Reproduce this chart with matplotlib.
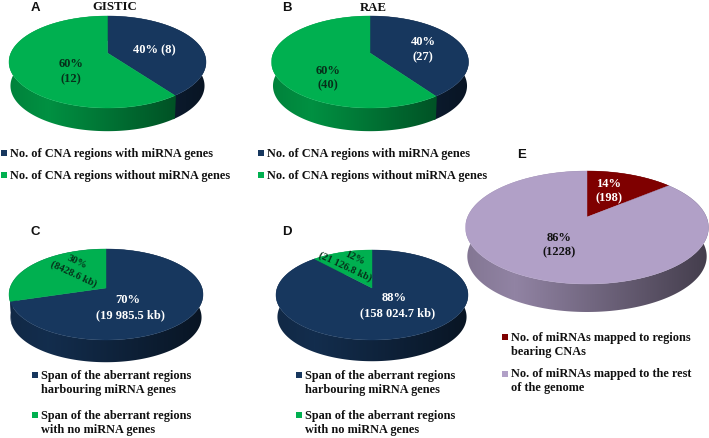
import numpy as np
import matplotlib
matplotlib.use("Agg")
import matplotlib.pyplot as plt
from matplotlib.colors import to_rgb
from matplotlib.patches import Polygon, Rectangle

NAVY, GREEN, RED, LILAC = "#17375E", "#00B050", "#7F0000", "#B1A0C7"

panel_a_values = [8, 12]
panel_b_values = [27, 40]
panel_c_values = [19985.5, 8428.6]
panel_d_values = [158024.7, 21126.8]
panel_e_values = [198, 1228]

cna_legend = ["No. of CNA regions with miRNA genes", "No. of CNA regions without miRNA genes"]
span_legend = [["Span of the aberrant regions", "harbouring miRNA genes"],
               ["Span of the aberrant regions", "with no miRNA genes"]]
mirna_legend = [["No. of miRNAs mapped to regions", "bearing CNAs"],
                ["No. of miRNAs mapped to the rest", "of the genome"]]

W, H = 709, 438
fig = plt.figure(figsize=(W / 100, H / 100), dpi=100, facecolor="white")
ax = fig.add_axes([0, 0, 1, 1])


def pie3d(values, colors, cx, cy, halfw, up, down, depth, wall_colors=None):
    """Perspective pie: slices run clockwise from 12 o'clock."""
    k = (down - up) / (down + up)
    by = up * (1 + k)
    ax_w = halfw * np.sqrt(1 - k * k)

    def rim(t, scale=1.0, dy=0.0):
        u, v = np.sin(t), -np.cos(t)
        d = 1 - k * v
        return cx + scale * ax_w * u / d, cy + dy + scale * by * v / d

    fractions = np.asarray(values, float) / np.sum(values)
    edges = np.concatenate([[0], np.cumsum(fractions)]) * 2 * np.pi
    wall_colors = wall_colors or colors
    pos = np.linspace(-1, 1, 256)
    shade = np.interp(pos, [-1, -0.6, 1], [0.74, 0.82, 0.38])[None, :, None]
    for c, t0, t1 in zip(wall_colors, edges[:-1], edges[1:]):
        ts = np.linspace(t0 - 0.012, t1 + 0.012, 300)
        xa, ya = rim(ts)
        xb, yb = rim(ts[::-1], 0.985, depth)
        band = Polygon(np.column_stack([np.r_[xa, xb], np.r_[ya, yb]]), closed=True,
                       facecolor="none", edgecolor="none", transform=ax.transData)
        ax.add_patch(band)
        img = ax.imshow(np.array(to_rgb(c))[None, None, :] * shade, aspect="auto",
                        extent=(cx - halfw, cx + halfw, cy + down + depth + 2, cy - up - 2),
                        interpolation="bilinear", zorder=2)
        img.set_clip_path(band)
    for c, t0, t1 in zip(colors, edges[:-1], edges[1:]):
        ts = np.linspace(t0, t1, 200)
        x, y = rim(ts)
        pts = np.column_stack([np.r_[cx, x], np.r_[cy, y]])
        ax.add_patch(Polygon(pts, closed=True, facecolor=c, edgecolor=c, linewidth=0.3, zorder=3))


pie3d(panel_a_values, [NAVY, GREEN], 107.5, 53, 98.5, 37, 55, 24)
pie3d(panel_b_values, [NAVY, GREEN], 370, 53, 98.5, 37, 55, 24)
pie3d(panel_c_values, [NAVY, GREEN], 106, 288, 97, 39, 52, 23, wall_colors=[NAVY, NAVY])
pie3d(panel_d_values, [NAVY, GREEN], 372, 288, 96, 38, 52, 22)
pie3d(panel_e_values, [RED, LILAC], 587, 217, 121.5, 46, 67, 29)

ax.set_xlim(0, W)
ax.set_ylim(H, 0)
ax.axis("off")

SERIF = "Liberation Serif"
SANS = "Liberation Sans"
LEG = 8.8
LAB = 9.0
SMALL = 7.5


def serif(x, y, s, size=LEG, color="#111111", **kw):
    ax.text(x, y, s, family=SERIF, weight="bold", fontsize=size, color=color,
            ha=kw.pop("ha", "center"), va="center", zorder=5, **kw)


for x, y, s in [(35, 8, "A"), (287, 8, "B"), (35, 232, "C"), (287, 232, "D"), (522, 155, "E")]:
    ax.text(x, y, s, family=SANS, weight="bold", fontsize=9.5, color="#111111", ha="center", va="center")
serif(115, 7.5, "GISTIC", size=9.2)
serif(373, 8, "RAE", size=9.2)

DARK = "#06301a"
serif(154, 50, "40% (8)", color="white", size=LAB)
serif(71, 64, "60%", size=LAB, color=DARK)
serif(71, 79, "(12)", size=LAB, color=DARK)
serif(423, 42, "40%", color="white", size=LAB)
serif(423, 57, "(27)", color="white", size=LAB)
serif(328, 71, "60%", size=LAB, color=DARK)
serif(328, 85, "(40)", size=LAB, color=DARK)
serif(128, 300, "70%", color="white", size=LAB)
serif(130, 315, "(19 985.5 kb)", color="white", size=LAB)
serif(77, 262, "30%", size=SMALL, color=DARK, rotation=-25, rotation_mode="anchor")
serif(74, 274, "(8428.6 kb)", size=SMALL, color=DARK, rotation=-25, rotation_mode="anchor")
serif(394, 298, "88%", color="white", size=LAB)
serif(398, 313, "(158 024.7 kb)", color="white", size=LAB)
serif(355, 258, "12%", size=SMALL, color=DARK, rotation=-25, rotation_mode="anchor")
serif(345, 267, "(21 126.8 kb)", size=SMALL, color=DARK, rotation=-25, rotation_mode="anchor")
serif(609, 184, "14%", color="white", size=LAB)
serif(609, 198, "(198)", color="white", size=LAB)
serif(559, 238, "86%", size=LAB)
serif(559, 252, "(1228)", size=LAB)


def key(x, y, c):
    ax.add_patch(Rectangle((x, y - 3), 6, 6, facecolor=c, edgecolor="none", zorder=5))


for x0, tx in [(0.5, 9.5), (258, 267)]:
    key(x0, 153, NAVY)
    serif(tx, 153.5, cna_legend[0], ha="left")
    key(x0, 175, GREEN)
    serif(tx, 175.5, cna_legend[1], ha="left")

for x0, tx in [(32, 41), (296, 305)]:
    key(x0, 375, NAVY)
    serif(tx, 375.5, span_legend[0][0], ha="left")
    serif(tx, 390, span_legend[0][1], ha="left")
    key(x0, 415, GREEN)
    serif(tx, 415.5, span_legend[1][0], ha="left")
    serif(tx, 430, span_legend[1][1], ha="left")

key(502, 337, RED)
serif(511, 337.5, mirna_legend[0][0], ha="left")
serif(511, 352, mirna_legend[0][1], ha="left")
key(502, 374, LILAC)
serif(511, 374.5, mirna_legend[1][0], ha="left")
serif(511, 388.5, mirna_legend[1][1], ha="left")

fig.savefig("out.png", dpi=100)
